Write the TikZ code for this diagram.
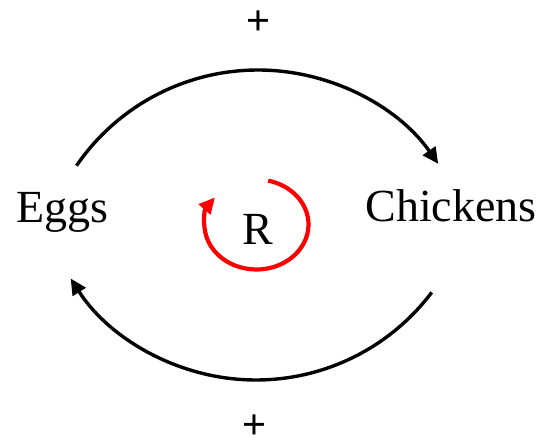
\documentclass[tikz,border=0pt]{standalone}
\usepackage{fontspec}
\setmainfont{Liberation Serif}
\newfontfamily\plusfont{Liberation Sans}
\usetikzlibrary{arrows.meta}
\begin{document}
\begin{tikzpicture}[x=1pt,y=1pt,
  lbl/.style={inner sep=0pt,anchor=base,font=\fontsize{46}{50}\selectfont},
  plusl/.style={inner sep=0pt,anchor=base,font=\plusfont\fontsize{41}{45}\selectfont},
  blackarr/.style={line width=3.4pt,-{Triangle[length=16pt,width=15pt]}},
  redarr/.style={red,line width=4.2pt,-{Triangle[length=16pt,width=15pt]}}]
\useasboundingbox (0,0) rectangle (547,441);
\node[lbl] (eggs) at (62.5,218) {Eggs};
\node[lbl] (chickens) at (451,219) {Chickens};
\node[lbl] (r) at (257.5,196) {R};
\node[plusl] (ptop) at (258,406) {+};
\node[plusl] (pbot) at (254.5,2) {+};
\path (258,151) ++(145.6:220) coordinate (topstart);
\draw[blackarr] (topstart) arc[start angle=145.6,end angle=35,radius=220];
\path (256,281) ++(-37:220) coordinate (botstart);
\draw[blackarr] (botstart) arc[start angle=-37,end angle=-147.4,radius=220];
\path (256.5,216.5) ++(77:52 and 45) coordinate (redstart);
\draw[redarr] (redstart) arc[start angle=77,end angle=-217,x radius=52,y radius=45];
\end{tikzpicture}
\end{document}
